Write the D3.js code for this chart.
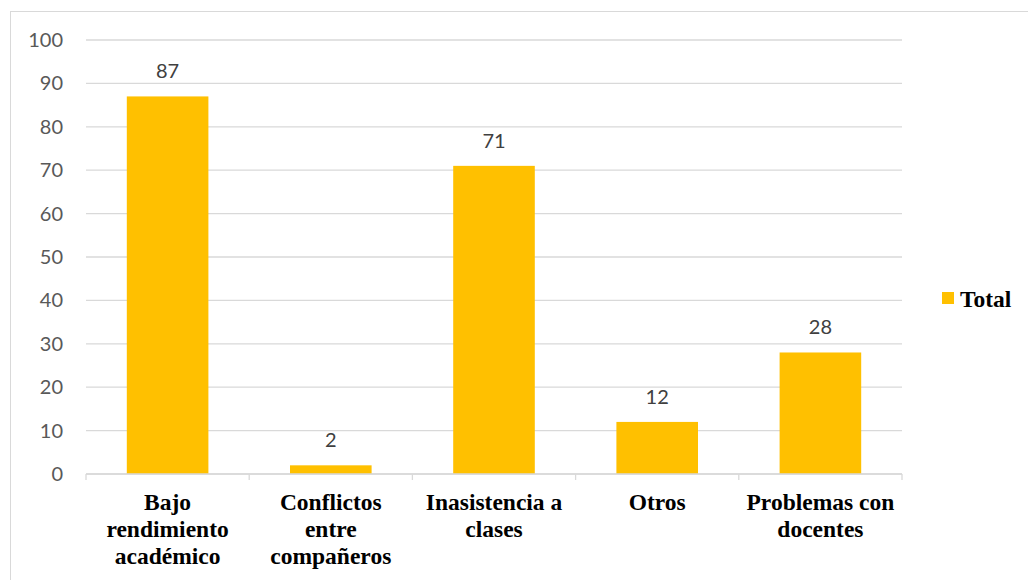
<!DOCTYPE html>
<html><head><meta charset="utf-8">
<script src="https://cdn.jsdelivr.net/npm/d3@7"></script>
<style>body{margin:0;background:#fff}svg{display:block}
.serif{font-family:"Liberation Serif","Times New Roman",Times,"DejaVu Serif",serif;font-weight:bold}
.sans{font-family:Lato,"Open Sans",sans-serif}</style>
</head><body>
<svg id="c" width="1028" height="580"></svg>
<script>
const categories = [["Bajo","rendimiento","académico"],["Conflictos","entre","compañeros"],["Inasistencia a","clases"],["Otros"],["Problemas con","docentes"]];
const catKeys = ["Bajo rendimiento académico","Conflictos entre compañeros","Inasistencia a clases","Otros","Problemas con docentes"];
const values = [87, 2, 71, 12, 28];
const yTicks = [0,10,20,30,40,50,60,70,80,90,100];
const seriesName = "Total";

const svg = d3.select("#c");
const pL = 86, pR = 902, pT = 40, pB = 474;
svg.append("rect").attr("x",10.5).attr("y",11.5).attr("width",1030).attr("height",600).attr("fill","#fff").attr("stroke","#d9d9d9").attr("stroke-width",1);

const x = d3.scaleBand().domain(catKeys).range([pL,pR]).paddingInner(0.5).paddingOuter(0.25);
const y = d3.scaleLinear().domain([0,100]).range([pB,pT]);

// gridlines
svg.append("g").selectAll("line").data(yTicks).join("line")
  .attr("x1",pL).attr("x2",pR).attr("y1",d=>y(d)).attr("y2",d=>y(d))
  .attr("stroke","#d9d9d9").attr("stroke-width",1.3);

// y labels
const ya = svg.append("g").attr("transform",`translate(${pL},0)`).call(d3.axisLeft(y).tickValues(yTicks).tickSize(0).tickPadding(23));
ya.select(".domain").remove();
ya.selectAll("text").attr("class","sans").attr("font-size",20).attr("fill","#595959");
ya.attr("font-family",null);

// bars
svg.append("g").selectAll("rect").data(values).join("rect")
  .attr("x",(d,i)=>x(catKeys[i])).attr("width",x.bandwidth())
  .attr("y",d=>y(d)).attr("height",d=>y(0)-y(d)).attr("fill","#ffc000");

// x axis line and ticks
svg.append("line").attr("x1",pL).attr("x2",pR).attr("y1",pB).attr("y2",pB).attr("stroke","#d9d9d9").attr("stroke-width",1.3);
const bounds = d3.range(catKeys.length+1).map(i=>pL + i*(pR-pL)/catKeys.length);
svg.append("g").selectAll("line").data(bounds).join("line")
  .attr("x1",d=>d).attr("x2",d=>d).attr("y1",pB).attr("y2",pB+6).attr("stroke","#d9d9d9").attr("stroke-width",1.3);

// data labels
svg.append("g").selectAll("text").data(values).join("text")
  .attr("class","sans")
  .attr("x",(d,i)=>x(catKeys[i])+x.bandwidth()/2).attr("y",d=>y(d)-18)
  .attr("text-anchor","middle").attr("font-size",20).attr("fill","#404040")
  .text(d=>d);

// category labels
const cl = svg.append("g").selectAll("text").data(categories).join("text")
  .attr("class","serif")
  .attr("x",(d,i)=>x(catKeys[i])+x.bandwidth()/2).attr("y",510)
  .attr("text-anchor","middle").attr("font-size",23.5).attr("fill","#000");
cl.selectAll("tspan").data(d=>d).join("tspan")
  .attr("x",function(){return this.parentNode.getAttribute("x");})
  .attr("dy",(d,i)=>i===0?0:27).text(d=>d);

// legend
svg.append("rect").attr("x",942).attr("y",292).attr("width",12).attr("height",12).attr("fill","#ffc000");
svg.append("text").attr("class","serif").attr("x",960).attr("y",307).attr("font-size",23.5).attr("fill","#000").text(seriesName);
</script>
</body></html>
